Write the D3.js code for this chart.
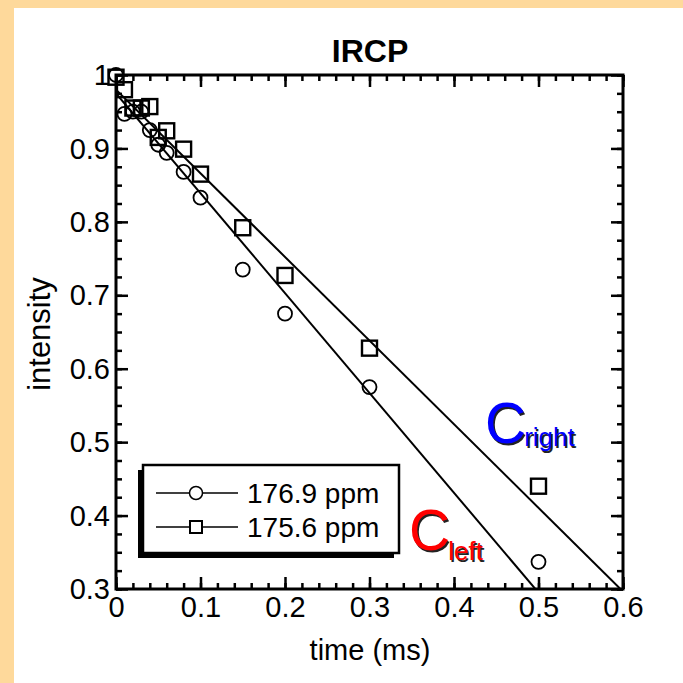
<!DOCTYPE html>
<html>
<head>
<meta charset="utf-8">
<script src="https://cdn.jsdelivr.net/npm/d3@7"></script>
<style>
  html, body { margin: 0; padding: 0; background: #fed99b; }
  svg { display: block; }
  text { font-family: "Liberation Sans", Arial, sans-serif; }
</style>
</head>
<body>
<svg id="chart" width="683" height="683"></svg>
<script>
// Delay times (ms) of the IRCP series
const times = [0, 0.01, 0.02, 0.03, 0.04, 0.05, 0.06, 0.08, 0.1, 0.15, 0.2, 0.3, 0.5];
// Normalised intensity of each carbonyl peak
const left1769 = [1.0, 0.947, 0.95, 0.95, 0.925, 0.905, 0.894, 0.868, 0.833, 0.735, 0.675, 0.575, 0.337];
const right1756 = [0.997, 0.98, 0.955, 0.955, 0.957, 0.915, 0.924, 0.899, 0.865, 0.792, 0.727, 0.628, 0.44];
// Linear fits: intercept and slope (per ms)
const fitLeft = [0.975, -1.36];
const fitRight = [0.98, -1.139];
const seriesNames = ["176.9 ppm", "175.6 ppm"];
const xTicks = [0, 0.1, 0.2, 0.3, 0.4, 0.5, 0.6];
const yTicks = [0.3, 0.4, 0.5, 0.6, 0.7, 0.8, 0.9, 1];

const svg = d3.select("#chart");

// page panel
svg.append("rect").attr("x", 14).attr("y", 8).attr("width", 669).attr("height", 675).attr("fill", "#fff");

const L = 116, R = 623, T = 75, B = 589;
const x = d3.scaleLinear().domain([0, 0.6]).range([L, R]);
const y = d3.scaleLinear().domain([0.3, 1]).range([B, T]);

const g = svg.append("g");

// minor ticks
const xMinor = d3.range(0, 0.6001, 0.02).map(v => +v.toFixed(3));
const yMinor = d3.range(0.3, 1.0001, 0.025).map(v => +v.toFixed(4));

function styleAxis(sel) {
  sel.select(".domain").remove();
  sel.selectAll(".tick line").attr("stroke", "#000").attr("stroke-width", 2.5);
  sel.selectAll(".tick text").attr("fill", "#000").attr("font-size", 29)
     .attr("font-family", "Liberation Sans, Arial, sans-serif");
}

// bottom
g.append("g").attr("transform", `translate(0,${B})`)
  .call(d3.axisBottom(x).tickValues(xMinor).tickSize(-6).tickFormat("")).call(styleAxis);
g.append("g").attr("transform", `translate(0,${B})`)
  .call(d3.axisBottom(x).tickValues(xTicks).tickSize(-12).tickFormat(d3.format("~g")))
  .call(styleAxis)
  .selectAll(".tick text").attr("dy", null).attr("y", 28);
// top
g.append("g").attr("transform", `translate(0,${T})`)
  .call(d3.axisTop(x).tickValues(xMinor).tickSize(-6).tickFormat("")).call(styleAxis);
g.append("g").attr("transform", `translate(0,${T})`)
  .call(d3.axisTop(x).tickValues(xTicks).tickSize(-12).tickFormat("")).call(styleAxis);
// left
g.append("g").attr("transform", `translate(${L},0)`)
  .call(d3.axisLeft(y).tickValues(yMinor).tickSize(-6).tickFormat("")).call(styleAxis);
g.append("g").attr("transform", `translate(${L},0)`)
  .call(d3.axisLeft(y).tickValues(yTicks).tickSize(-12).tickFormat(d3.format("~g")))
  .call(styleAxis)
  .selectAll(".tick text").attr("x", -6).attr("dy", "0.33em");
// right
g.append("g").attr("transform", `translate(${R},0)`)
  .call(d3.axisRight(y).tickValues(yMinor).tickSize(-6).tickFormat("")).call(styleAxis);
g.append("g").attr("transform", `translate(${R},0)`)
  .call(d3.axisRight(y).tickValues(yTicks).tickSize(-12).tickFormat("")).call(styleAxis);

// frame
g.append("rect").attr("x", L).attr("y", T).attr("width", R - L).attr("height", B - T)
  .attr("fill", "none").attr("stroke", "#000").attr("stroke-width", 3);

// fit lines, clipped to the plot
svg.append("clipPath").attr("id", "plotClip")
  .append("rect").attr("x", L).attr("y", T).attr("width", R - L).attr("height", B - T);
const fits = g.append("g").attr("clip-path", "url(#plotClip)");
[fitLeft, fitRight].forEach(([a, b]) => {
  fits.append("line")
    .attr("x1", x(0)).attr("y1", y(a))
    .attr("x2", x(0.6)).attr("y2", y(a + b * 0.6))
    .attr("stroke", "#000").attr("stroke-width", 2);
});

// markers
const pts = g.append("g");
times.forEach((t, i) => {
  pts.append("circle").attr("cx", x(t)).attr("cy", y(left1769[i])).attr("r", 7)
    .attr("fill", "none").attr("stroke", "#000").attr("stroke-width", 1.8);
});
times.forEach((t, i) => {
  pts.append("rect").attr("x", x(t) - 7.5).attr("y", y(right1756[i]) - 7.5)
    .attr("width", 15).attr("height", 15)
    .attr("fill", "none").attr("stroke", "#000").attr("stroke-width", 2.4);
});

// title and axis labels
svg.append("text").attr("x", 370).attr("y", 62).attr("text-anchor", "middle")
  .attr("font-size", 32).attr("font-weight", "bold").text("IRCP");
svg.append("text").attr("x", 370).attr("y", 660).attr("text-anchor", "middle")
  .attr("font-size", 29).text("time (ms)");
svg.append("text").attr("transform", "translate(50,334) rotate(-90)").attr("text-anchor", "middle")
  .attr("font-size", 31).text("intensity");

// legend
const lg = svg.append("g");
lg.append("rect").attr("x", 138).attr("y", 470).attr("width", 256).attr("height", 88).attr("fill", "#000");
lg.append("rect").attr("x", 143).attr("y", 465).attr("width", 256).attr("height", 88)
  .attr("fill", "#fff").attr("stroke", "#000").attr("stroke-width", 2.5);
const rows = [493, 527];
rows.forEach((ry, i) => {
  lg.append("line").attr("x1", 156).attr("x2", 238).attr("y1", ry).attr("y2", ry)
    .attr("stroke", "#000").attr("stroke-width", 1.5);
  if (i === 0) {
    lg.append("circle").attr("cx", 196).attr("cy", ry).attr("r", 6.5)
      .attr("fill", "#fff").attr("stroke", "#000").attr("stroke-width", 1.5);
  } else {
    lg.append("rect").attr("x", 190).attr("y", ry - 6).attr("width", 12).attr("height", 12)
      .attr("fill", "#fff").attr("stroke", "#000").attr("stroke-width", 2);
  }
  lg.append("text").attr("x", 247).attr("y", ry + 10).attr("font-size", 28).text(seriesNames[i]);
});

// peak labels with drop shadow
function peakLabel(px, py, sub, subDy, color) {
  [["#222", 1.5], [color, 0]].forEach(([c, o]) => {
    const t = svg.append("text").attr("x", px + o).attr("y", py + o).attr("fill", c);
    t.append("tspan").attr("font-size", 57).text("C");
    t.append("tspan").attr("font-size", 26).attr("dx", -2).attr("dy", subDy).text(sub);
  });
}
peakLabel(485, 443, "right", 3, "#0000ff");
peakLabel(409, 550, "left", 10, "#ff0000");
</script>
</body>
</html>
